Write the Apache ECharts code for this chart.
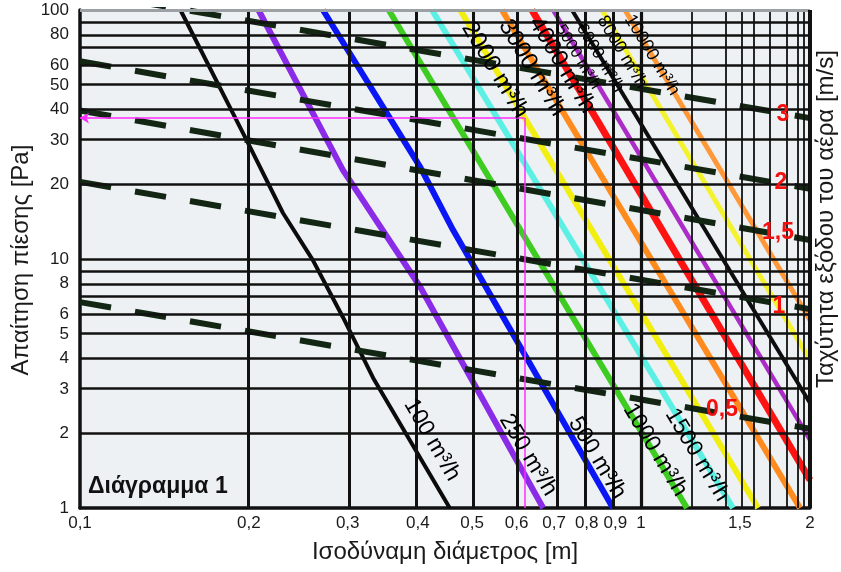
<!DOCTYPE html>
<html><head><meta charset="utf-8">
<script src="https://cdn.jsdelivr.net/npm/echarts@6/dist/echarts.min.js"></script>
<style>html,body{margin:0;padding:0;background:#fff}#c{width:841px;height:572px}</style>
</head><body><div id="c"></div>
<script>
// ---- axis ticks / grid ----
const xTickValues = [0.1, 0.2, 0.3, 0.4, 0.5, 0.6, 0.7, 0.8, 0.9, 1, 1.5, 2];
const xTickLabels = ['0,1', '0,2', '0,3', '0,4', '0,5', '0,6', '0,7', '0,8', '0,9', '1', '1,5', '2'];
const yTickValues = [1, 2, 3, 4, 5, 6, 8, 10, 20, 30, 40, 50, 60, 80, 100];
const yTickLabels = ['1', '2', '3', '4', '5', '6', '8', '10', '20', '30', '40', '50', '60', '80', '100'];
const xMajorGrid = [0.2, 0.3, 0.4, 0.5, 0.6, 0.7, 0.8, 0.9, 1];
const xMinorGrid = [1.24, 1.4, 1.5, 1.6, 1.7, 1.8, 1.9, 1.95];
const yGrid = [2, 3, 4, 5, 6, 7, 8, 9, 10, 20, 30, 40, 50, 60, 70, 80, 90];

// ---- air flow lines [diameter m, pressure Pa] ----
const flowNames = ['100 m³/h', '250 m³/h', '500 m³/h', '1000 m³/h', '1500 m³/h', '2000 m³/h',
  '3000 m³/h', '4000 m³/h', '5000 m³/h', '6000 m³/h', '8000 m³/h', '10000 m³/h'];
const flow100 = [[0.151, 100], [0.198, 30.1], [0.230, 15.3], [0.260, 9.9], [0.294, 5.85], [0.333, 3.33], [0.456, 1]];
const flow250 = [[0.208, 100], [0.294, 22.8], [0.404, 7.72], [0.669, 1]];
const flow500 = [[0.271, 100], [0.404, 23.4], [0.462, 13.1], [0.891, 1]];
const flow1000 = [[0.355, 100], [1.207, 1]];
const flow1500 = [[0.424, 100], [1.458, 1]];
const flow2000 = [[0.476, 100], [1.616, 1]];
const flow3000 = [[0.565, 100], [1.92, 1]];
const flow4000 = [[0.639, 100], [2, 1.296]];
const flow5000 = [[0.697, 100], [2, 1.876]];
const flow6000 = [[0.753, 100], [2, 2.641]];
const flow8000 = [[0.852, 100], [2, 3.93]];
const flow10000 = [[0.936, 100], [2, 5.69]];
const flowData = [flow100, flow250, flow500, flow1000, flow1500, flow2000, flow3000, flow4000, flow5000, flow6000, flow8000, flow10000];
// where each flow label sits [diameter, pressure]
const flowLabelAt = [[0.424, 1.876], [0.629, 1.633], [0.835, 1.588], [1.059, 1.71], [1.258, 1.633],
  [0.549, 57.4], [0.639, 58.5], [0.723, 60.1], [0.772, 64.8], [0.845, 64.2], [0.925, 67.8], [1.046, 65.9]];

// ---- outlet velocity lines (dashed) ----
const velNames = ['3', '2', '1,5', '1', '0,5'];
const vel3 = [[0.1, 118.4], [2, 36.8]];
const vel2 = [[0.1, 62.3], [2, 19.15]];
const vel15 = [[0.1, 39.5], [2, 11.92]];
const vel1 = [[0.1, 20.4], [2, 6.29]];
const vel05 = [[0.1, 6.71], [2, 2.08]];
const velData = [vel3, vel2, vel15, vel1, vel05];
const velLabelAt = [[1.79, 37.9], [1.775, 20.2], [1.754, 12.7], [1.761, 6.42], [1.394, 2.475]];

// ---- example reading (magenta) ----
const exampleD = 0.62;
const exampleP = 36.8;

// ---------------------------------------------------------------
const L = Math.log10;
const flowColors = ['#0b0b0b', '#8a2be8', '#0a16f5', '#3fcc22', '#5cf0e4', '#f2ef10',
  '#ff8a1e', '#ff1212', '#ab2cc6', '#0d0d0d', '#f4f22c', '#ff9838'];
const flowWidths = [4, 6, 6, 6, 6, 6, 6, 7, 4.5, 4, 5, 5];
const flowFont = [23, 23, 23, 23, 23, 24, 24, 24, 16, 17, 18, 18];
const flowRot = [-60, -59, -59, -59, -59, -59, -59, -59, -59, -59, -59, -59];

const narrow = "'Liberation Sans Narrow', 'Liberation Sans', Arial, sans-serif";
const sans = "'Liberation Sans', Arial, sans-serif";

function fmtFrom(values, labels) {
  return function (v) {
    for (let i = 0; i < values.length; i++) {
      if (Math.abs(L(values[i]) - v) < 1e-6) return labels[i];
    }
    return '';
  };
}

const gridLines = [];
yGrid.forEach(v => gridLines.push({ yAxis: L(v), lineStyle: { width: 2.5, color: '#111', type: 'solid' } }));
xMajorGrid.forEach(v => gridLines.push({ xAxis: L(v), lineStyle: { width: v === 1 ? 3.2 : 3, color: '#111', type: 'solid' } }));
xMinorGrid.forEach(v => gridLines.push({ xAxis: L(v), lineStyle: { width: 1.8, color: '#111', type: 'solid' } }));
gridLines.push({ yAxis: L(100), lineStyle: { width: 3, color: '#9ba1a4', type: 'solid' } });
gridLines.push({ xAxis: L(2), lineStyle: { width: 4, color: '#111', type: 'solid' } });

const series = [];
series.push({
  type: 'line', data: [], silent: true, clip: false, z: 1,
  markLine: {
    silent: true, symbol: ['none', 'none'], label: { show: false },
    emphasis: { disabled: true }, animation: false, data: gridLines
  }
});

flowData.forEach((pts, i) => {
  series.push({
    type: 'line', name: flowNames[i], data: pts.map(p => [L(p[0]), L(p[1])]),
    symbol: 'none', silent: true, clip: true, z: 3,
    lineStyle: { color: flowColors[i], width: flowWidths[i], cap: 'butt', join: 'round' }
  });
});

velData.forEach((pts, i) => {
  series.push({
    type: 'line', name: 'v ' + velNames[i], data: pts.map(p => [L(p[0]), L(p[1])]),
    symbol: 'none', silent: true, clip: true, z: 4,
    lineStyle: { color: '#132613', width: 6, type: [31.5, 24.3], cap: 'butt' }
  });
});

series.push({
  type: 'scatter', silent: true, zlevel: 1, z: 6, symbolSize: 1,
  itemStyle: { color: 'transparent', opacity: 1 },
  label: { show: true, position: 'inside', color: '#000', opacity: 1, textBorderWidth: 0, fontFamily: sans, formatter: p => p.name },
  data: flowLabelAt.map((p, i) => ({
    name: flowNames[i], value: [L(p[0]), L(p[1])],
    label: { fontSize: flowFont[i], rotate: flowRot[i] }
  }))
});

series.push({
  type: 'scatter', silent: true, zlevel: 1, z: 8, symbolSize: 1,
  itemStyle: { color: 'transparent', opacity: 1 },
  label: { show: true, position: 'inside', color: '#f40f0f', opacity: 1, textBorderWidth: 0, fontFamily: sans, fontWeight: 'bold', fontSize: 23, formatter: p => p.name },
  data: velLabelAt.map((p, i) => ({ name: velNames[i], value: [L(p[0]), L(p[1])] }))
});

series.push({
  type: 'line', data: [], silent: true, clip: false, z: 7,
  markLine: {
    silent: true, symbol: ['none', 'none'], label: { show: false }, animation: false,
    emphasis: { disabled: true },
    lineStyle: { color: '#ff2cff', width: 1.5, type: 'solid' },
    data: [
      [{ coord: [L(exampleD), L(1)] }, { coord: [L(exampleD), L(exampleP)] }],
      [{ coord: [L(exampleD), L(exampleP)] }, { coord: [L(0.1), L(exampleP)], symbol: 'arrow', symbolSize: [8, 9] }]
    ]
  }
});

const chart = echarts.init(document.getElementById('c'));
chart.setOption({
  animation: false,
  backgroundColor: '#fff',
  grid: { left: 80, right: 31, top: 10, bottom: 64, show: true, backgroundColor: '#edf1f4', borderWidth: 0 },
  xAxis: {
    type: 'value', min: L(0.1), max: L(2),
    axisLine: { show: true, onZero: false, lineStyle: { color: '#111', width: 3.5 } },
    axisTick: { show: false }, splitLine: { show: false },
    axisLabel: {
      customValues: xTickValues.map(L), formatter: fmtFrom(xTickValues, xTickLabels),
      margin: 7, color: '#1a1a1a', fontSize: 17, fontFamily: narrow
    },
    name: 'Ισοδύναμη διάμετρος [m]', nameLocation: 'middle', nameGap: 32,
    nameTextStyle: { fontSize: 24, color: '#1a1a1a', fontFamily: sans }
  },
  yAxis: {
    type: 'value', min: 0, max: 2,
    axisLine: { show: true, onZero: false, lineStyle: { color: '#111', width: 3.5 } },
    axisTick: { show: false }, splitLine: { show: false },
    axisLabel: {
      customValues: yTickValues.map(L), formatter: fmtFrom(yTickValues, yTickLabels),
      margin: 11, color: '#1a1a1a', fontSize: 17, fontFamily: narrow
    }
  },
  graphic: [
    { type: 'text', x: 21, y: 260, rotation: Math.PI / 2,
      style: { text: 'Απαίτηση πίεσης [Pa]', font: "24px 'Liberation Sans', Arial, sans-serif", fill: '#1a1a1a', align: 'center', verticalAlign: 'middle' } },
    { type: 'text', x: 826, y: 219, rotation: Math.PI / 2,
      style: { text: 'Ταχύτητα εξόδου του αέρα [m/s]', font: "24px 'Liberation Sans', Arial, sans-serif", fill: '#1a1a1a', align: 'center', verticalAlign: 'middle' } },
    { type: 'text', x: 88, y: 487, z: 10,
      style: { text: 'Διάγραμμα 1', font: "bold 23px 'Liberation Sans', Arial, sans-serif", fill: '#111', align: 'left', verticalAlign: 'middle' } }
  ],
  series: series
});
</script></body></html>
